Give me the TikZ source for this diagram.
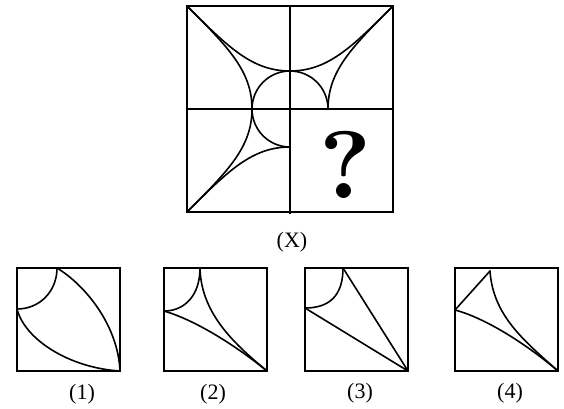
\documentclass[tikz,border=0pt]{standalone}
\usepackage{fontspec}
\setmainfont{Liberation Serif}
\newfontfamily\qfont{lmroman10-bold.otf}
\begin{document}
\begin{tikzpicture}[x=1pt,y=1pt,
  frame/.style={line width=1.2pt,black},
  curve/.style={line width=1.6pt,black,line cap=round,line join=round},
  lbl/.style={inner sep=0pt,font=\fontsize{22}{24}\selectfont}]
\useasboundingbox[fill=white] (0,0) rectangle (564,408);
% ---------- main figure ----------
\coordinate (TL) at (187,402);
\coordinate (TR) at (393,402);
\coordinate (BL) at (187,196);
\coordinate (BR) at (393,196);
\coordinate (C) at (290,299);
\draw[frame] (BL) rectangle (TR);
\coordinate (vt) at (290,402);
\coordinate (vb) at (290,194);
\coordinate (hl) at (187,299);
\coordinate (hr) at (393,299);
\draw[frame] (vt) -- (vb);
\draw[frame] (hl) -- (hr);
% inner circle (three quarters)
\draw[curve] (328,299) arc[start angle=0,end angle=270,radius=38];
% top arc
\draw[curve] (TL) .. controls (228,361) and (252,337) .. (290,337)
                  .. controls (328,337) and (352,361) .. (TR);
% left arc
\draw[curve] (TL) .. controls (228,361) and (252,337) .. (252,299)
                  .. controls (252,261) and (228,237) .. (BL);
% right arc (upper half)
\draw[curve] (TR) .. controls (352,361) and (328,337) .. (328,299);
% bottom arc (left half)
\draw[curve] (BL) .. controls (228,237) and (252,261) .. (290,261);
\node[inner sep=0pt,font=\qfont\fontsize{96}{98}\selectfont] (q) at (346,243) {?};
\node[lbl] (X) at (292,166) {(X)};
% ---------- option 1 ----------
\draw[frame] (17,37) rectangle (120,140);
\coordinate (a1) at (57,140);
\coordinate (b1) at (17,99);
\coordinate (c1) at (120,37);
\draw[curve] (a1) .. controls (57,117) and (40,99) .. (b1);
\draw[curve] (a1) .. controls (85,123) and (118,83) .. (c1);
\draw[curve] (b1) .. controls (25,68) and (70,40) .. (c1);
\node[lbl] (o1) at (82,14) {(1)};
% ---------- option 2 ----------
\draw[frame] (164,37) rectangle (267,140);
\coordinate (a2) at (200,140);
\coordinate (b2) at (164,97);
\coordinate (c2) at (267,37);
\draw[curve] (a2) .. controls (200,113) and (185,97) .. (b2);
\draw[curve] (a2) .. controls (201,93) and (237,62) .. (c2);
\draw[curve] (b2) .. controls (195,88) and (235,63) .. (c2);
\node[lbl] (o2) at (213,14) {(2)};
% ---------- option 3 ----------
\draw[frame] (305,37) rectangle (408,140);
\coordinate (a3) at (343,140);
\coordinate (b3) at (305,100);
\coordinate (c3) at (408,37);
\draw[curve] (a3) .. controls (343,113) and (330,100) .. (b3);
\draw[curve] (a3) -- (c3) -- (b3);
\node[lbl] (o3) at (360,15) {(3)};
% ---------- option 4 ----------
\draw[frame] (455,37) rectangle (558,140);
\coordinate (a4) at (490,137);
\coordinate (b4) at (455,98);
\coordinate (c4) at (558,37);
\draw[curve] (a4) -- (b4);
\draw[curve] (a4) .. controls (493,93) and (523,68) .. (c4);
\draw[curve] (b4) .. controls (485,90) and (525,65) .. (c4);
\node[lbl] (o4) at (510,15) {(4)};
\end{tikzpicture}
\end{document}
